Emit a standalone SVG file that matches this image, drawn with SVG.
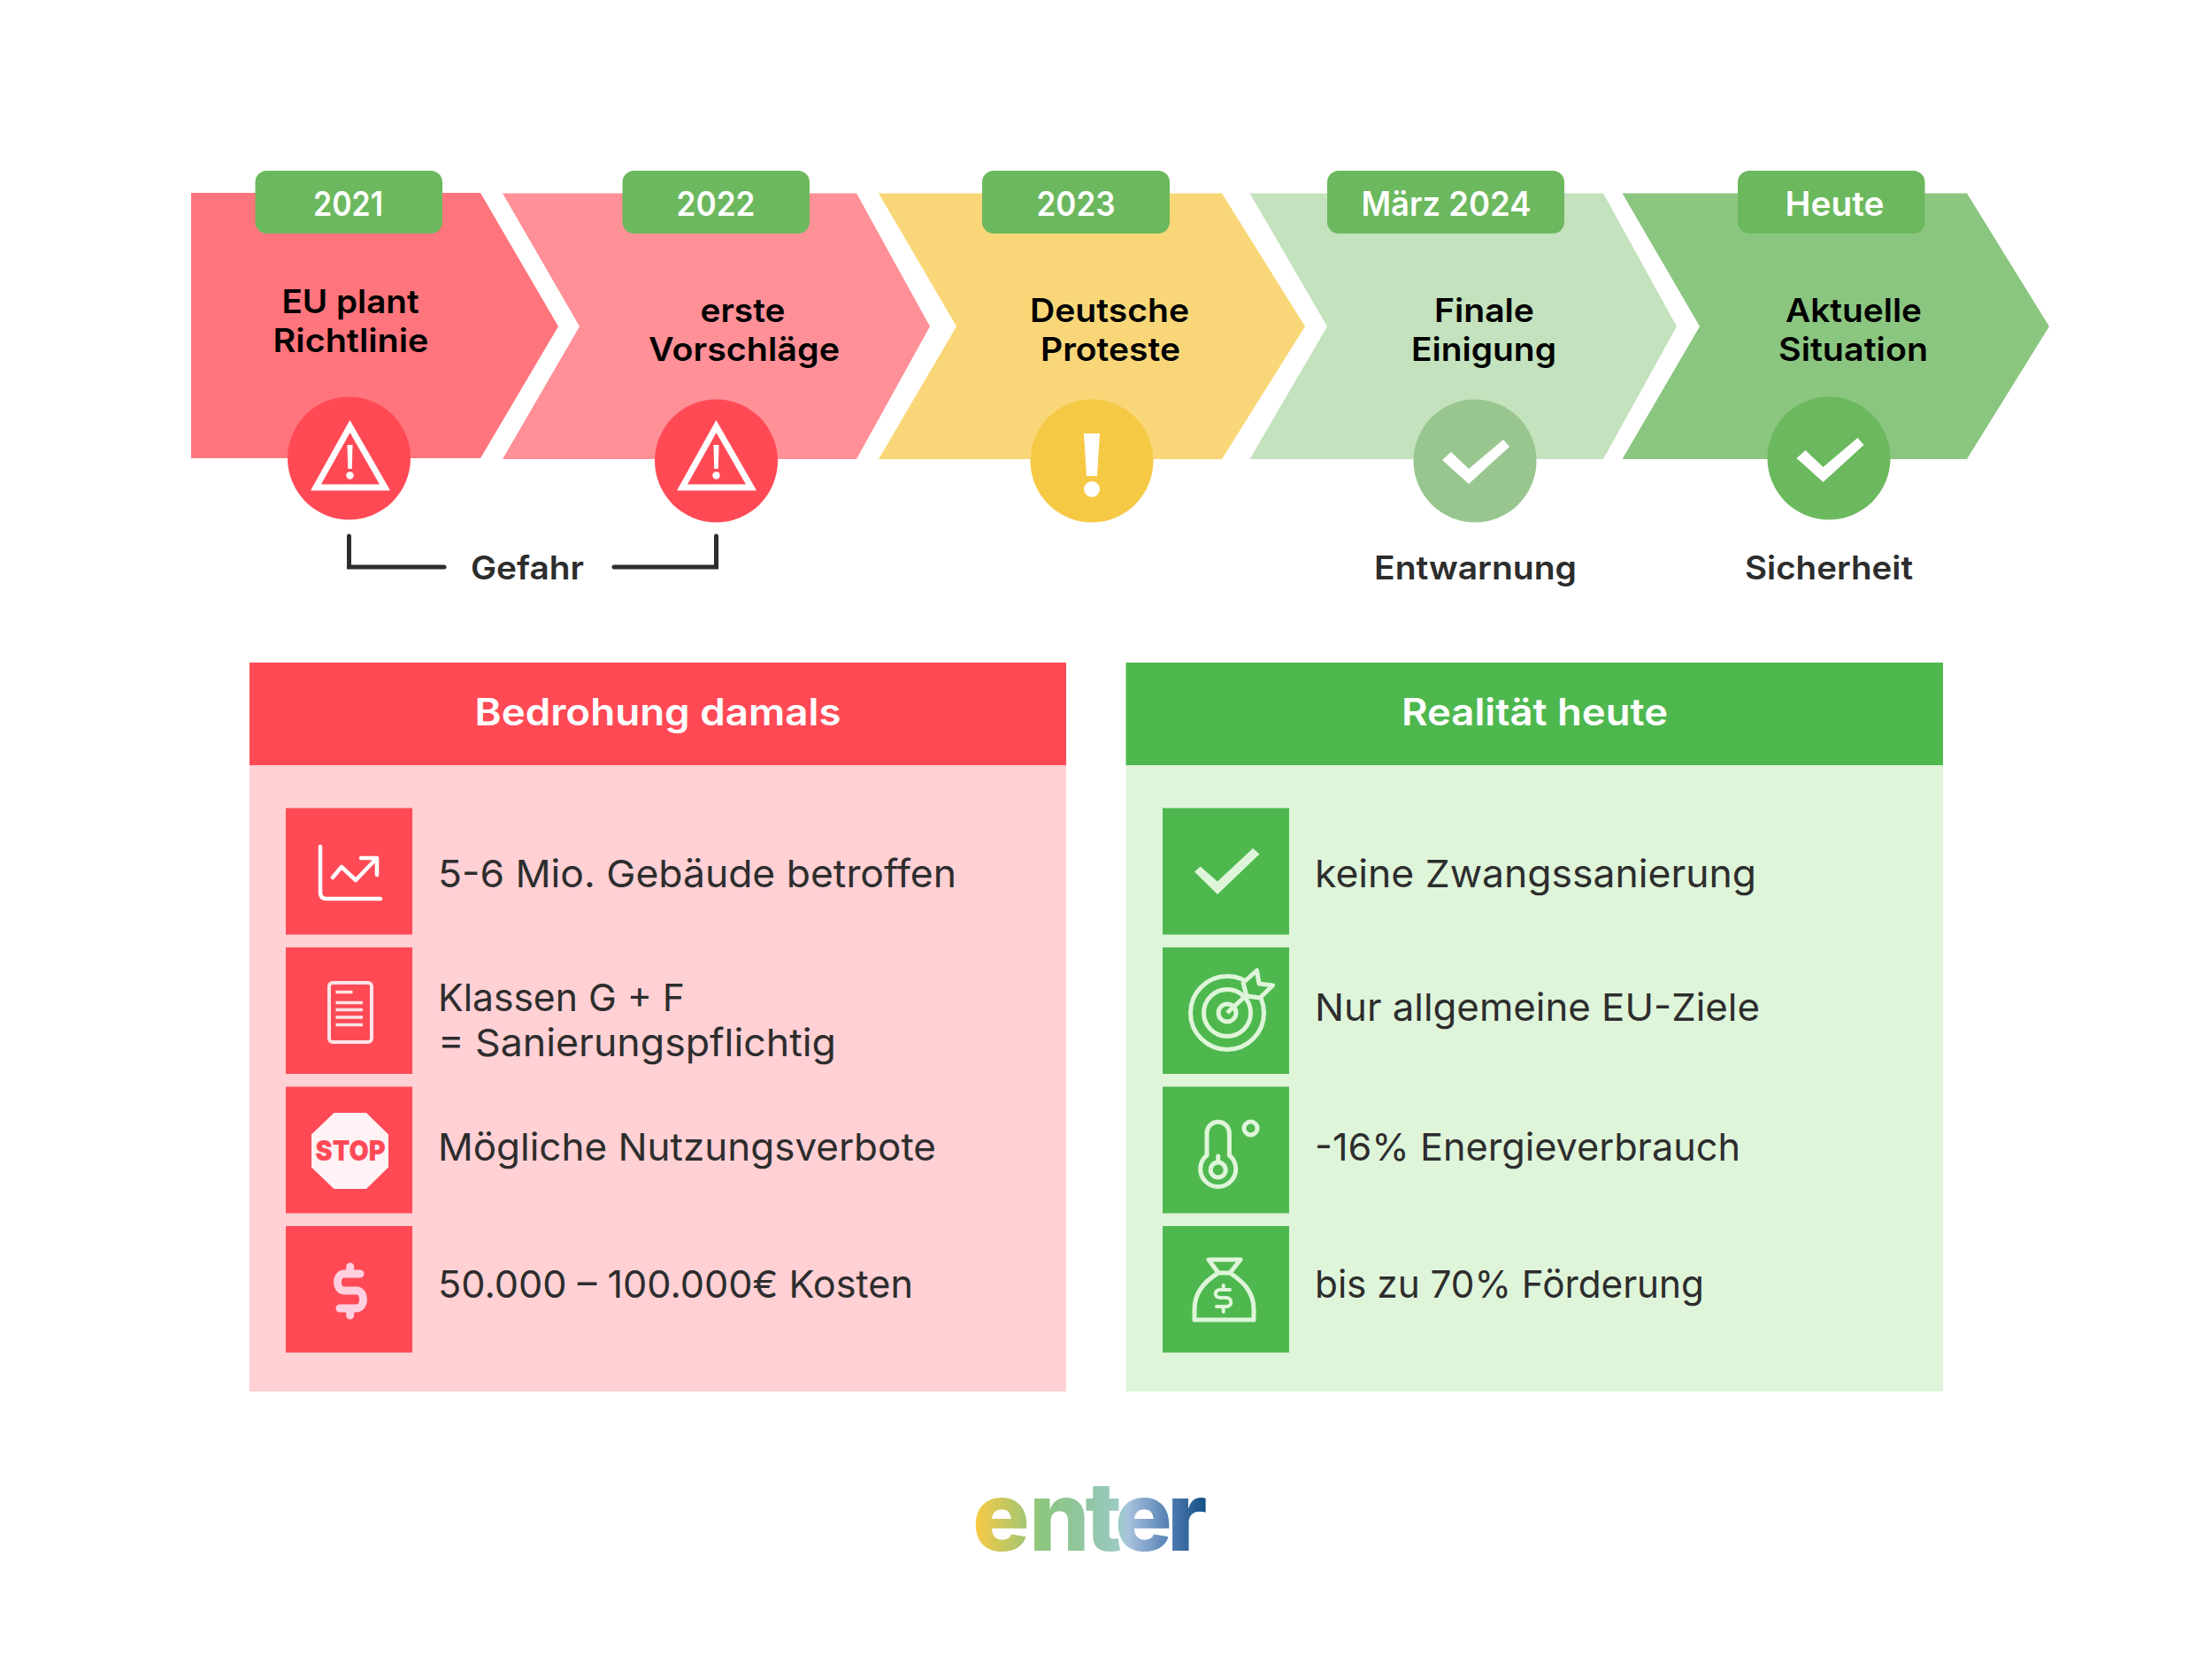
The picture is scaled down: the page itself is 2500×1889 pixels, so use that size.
<svg xmlns="http://www.w3.org/2000/svg" width="2500" height="1889" viewBox="0 0 2500 1889">
<defs>
<linearGradient id="logoGrad" gradientUnits="userSpaceOnUse" x1="1103" y1="0" x2="1363" y2="0">
<stop offset="0" stop-color="#f6c945"/><stop offset="0.28" stop-color="#8cc67e"/><stop offset="0.5" stop-color="#92c6a6"/><stop offset="0.62" stop-color="#9ccac4"/><stop offset="0.66" stop-color="#a8c2de"/><stop offset="0.86" stop-color="#4a78ae"/><stop offset="1" stop-color="#134f85"/>
</linearGradient>
</defs>
<style>
text{font-family:"Inter","Liberation Sans",sans-serif}
.badge{fill:#6cb85e}
.by{font-size:38px;font-weight:600;fill:#fff}
.lab{font-size:37px;font-weight:600;fill:#000}
.cap{font-size:37px;font-weight:600;fill:#2d2d2d}
.head{font-size:42px;font-weight:600;fill:#fff}
.item{font-size:43px;font-weight:400;fill:#2d2d2d}
.red{fill:#ff4a56}.grn{fill:#4eb84f}
.w{fill:none;stroke:#fff;stroke-linejoin:miter}
.ri{fill:none;stroke:#dff5da;stroke-width:5}
.li{fill:none;stroke:#fff;stroke-width:4.5;stroke-linecap:round;stroke-linejoin:round}
</style>
<rect width="2500" height="1889" fill="#fff"/>

<g id="step-2021">
<polygon points="216,218 543,218 631,369 543,518 216,518" fill="#ff757d"/>
<rect class="badge" x="288.500" y="193" width="211.500" height="71" rx="13"/>
<text class="by" x="354" y="243.500" textLength="79" lengthAdjust="spacingAndGlyphs">2021</text>
<text class="lab" x="318.500" y="353.500" textLength="155" lengthAdjust="spacingAndGlyphs">EU plant</text>
<text class="lab" x="308.500" y="398" textLength="176" lengthAdjust="spacingAndGlyphs">Richtlinie</text>
<circle class="red" cx="394.500" cy="518" r="69.500"/>
<polygon class="w" stroke-width="7" points="395.500,482 357,551 435,551"/>
<polygon points="392.500,503 398.500,503 397.800,530 393.200,530" fill="#fff"/><circle cx="395.500" cy="537.500" r="4.200" fill="#fff"/>
</g>
<g id="step-2022">
<polygon points="568,218.500 968,218.500 1051,369 968,519 568,519 655,369" fill="#ff9097"/>
<rect class="badge" x="703.500" y="193" width="211.500" height="71" rx="13"/>
<text class="by" x="764.500" y="243.500" textLength="89" lengthAdjust="spacingAndGlyphs">2022</text>
<text class="lab" x="791.500" y="363.500" textLength="96" lengthAdjust="spacingAndGlyphs">erste</text>
<text class="lab" x="733" y="408" textLength="216" lengthAdjust="spacingAndGlyphs">Vorschläge</text>
<circle class="red" cx="809.500" cy="521" r="69.500"/>
<polygon class="w" stroke-width="7" points="809.500,482 771,551 849,551"/>
<polygon points="806.500,503 812.500,503 811.800,530 807.200,530" fill="#fff"/><circle cx="809.500" cy="537.500" r="4.200" fill="#fff"/>
</g>
<g id="step-2023">
<polygon points="993,218.500 1381,218.500 1475,369 1381,519 993,519 1081,369" fill="#f9d778"/>
<rect class="badge" x="1110" y="193" width="212" height="71" rx="13"/>
<text class="by" x="1171.500" y="243.500" textLength="89" lengthAdjust="spacingAndGlyphs">2023</text>
<text class="lab" x="1164" y="363.500" textLength="180" lengthAdjust="spacingAndGlyphs">Deutsche</text>
<text class="lab" x="1176" y="408" textLength="158" lengthAdjust="spacingAndGlyphs">Proteste</text>
<circle cx="1234" cy="521" r="69.500" fill="#f6c945"/>
<polygon points="1225,490 1243,490 1240,538 1228,538" fill="#fff"/><circle cx="1234" cy="553" r="9" fill="#fff"/>
</g>
<g id="step-2024">
<polygon points="1412.500,218.500 1812,218.500 1895,369 1812,519 1412.500,519 1500,369" fill="#c3e2bd"/>
<rect class="badge" x="1500" y="193" width="268" height="71" rx="13"/>
<text class="by" x="1538.500" y="243.500" textLength="192" lengthAdjust="spacingAndGlyphs">März 2024</text>
<text class="lab" x="1621" y="363.500" textLength="113" lengthAdjust="spacingAndGlyphs">Finale</text>
<text class="lab" x="1595" y="408" textLength="164" lengthAdjust="spacingAndGlyphs">Einigung</text>
<circle cx="1667" cy="521" r="69.500" fill="#99c68f"/>
<polygon points="1630,520 1640,511 1660,530 1699,497 1706,505 1660,547" fill="#fff"/>
<text class="cap" x="1553" y="654.500" textLength="229" lengthAdjust="spacingAndGlyphs">Entwarnung</text>
</g>
<g id="step-heute">
<polygon points="1833.500,218.500 2223,218.500 2316,369 2223,519 1833.500,519 1921,369" fill="#8bc680"/>
<rect class="badge" x="1964" y="193" width="211.500" height="71" rx="13"/>
<text class="by" x="2017.500" y="243.500" textLength="112" lengthAdjust="spacingAndGlyphs">Heute</text>
<text class="lab" x="2018" y="363.500" textLength="154" lengthAdjust="spacingAndGlyphs">Aktuelle</text>
<text class="lab" x="2010" y="408" textLength="169" lengthAdjust="spacingAndGlyphs">Situation</text>
<circle cx="2067" cy="518" r="69.500" fill="#6cb85e"/>
<polygon points="2030.500,518 2040.500,509 2060.500,528 2099.500,495 2106.500,503 2060.500,545" fill="#fff"/>
<text class="cap" x="1972" y="654.500" textLength="190" lengthAdjust="spacingAndGlyphs">Sicherheit</text>
</g>

<g id="connectors" fill="none" stroke="#2d2d2d" stroke-width="5" stroke-linecap="round">
<path d="M394.500,606 V641 H502"/>
<path d="M694,641 H809.500 V606"/>
</g>
<g id="gefahr"><text class="cap" x="532" y="654.500" textLength="128" lengthAdjust="spacingAndGlyphs">Gefahr</text></g>

<g id="panel-damals">
<rect x="282" y="749" width="923" height="824" fill="#ffd0d4"/>
<rect class="red" x="282" y="749" width="923" height="116"/>
<text class="head" x="536.500" y="820" textLength="414" lengthAdjust="spacingAndGlyphs">Bedrohung damals</text>
<g id="item-gebaeude">
<rect class="red" x="323" y="913.500" width="143" height="143"/>
<path class="li" d="M362,957 V1009 Q362,1016 369,1016 H430"/>
<path class="li" d="M376,992 L386,980 L402,995 L425,971 M408,970 H426 V989"/>
<text class="item" x="495" y="1003" textLength="586" lengthAdjust="spacingAndGlyphs">5-6 Mio. Gebäude betroffen</text>
</g>
<g id="item-klassen">
<rect class="red" x="323" y="1071" width="143" height="143"/>
<rect x="372" y="1111" width="48" height="67" rx="4" fill="none" stroke="#ffe3e6" stroke-width="4"/>
<path d="M379.500,1121.500 H398.500 M379.500,1133.500 H410 M379.500,1141.500 H410 M379.500,1150 H410 M379.500,1158.500 H410" stroke="#ffe3e6" stroke-width="3.500" fill="none"/>
<text class="item" x="495" y="1142.500" textLength="279" lengthAdjust="spacingAndGlyphs">Klassen G + F</text>
<text class="item" x="495" y="1194" textLength="450" lengthAdjust="spacingAndGlyphs">= Sanierungspflichtig</text>
</g>
<g id="item-stop">
<rect class="red" x="323" y="1228.500" width="143" height="143"/>
<polygon points="377.500,1258 414,1258 439,1282.500 439,1319.500 414,1344 377.500,1344 352,1319.500 352,1282.500" fill="#fff3f6"/>
<text x="356.500" y="1312" font-size="32" font-weight="900" fill="#ff4a56" textLength="79" lengthAdjust="spacingAndGlyphs">STOP</text>
<text class="item" x="495" y="1312" textLength="563" lengthAdjust="spacingAndGlyphs">Mögliche Nutzungsverbote</text>
</g>
<g id="item-kosten">
<rect class="red" x="323" y="1386" width="143" height="143"/>
<path d="M407,1440 H389 C379,1440 379,1459 389,1459 H403 C413,1459 413,1479 403,1479 H384 M395.700,1432 V1440 M395.700,1479 V1487" fill="none" stroke="#ffcfe0" stroke-width="9" stroke-linecap="round"/>
<text class="item" x="495" y="1466.500" textLength="537" lengthAdjust="spacingAndGlyphs">50.000 – 100.000€ Kosten</text>
</g>
</g>

<g id="panel-heute">
<rect x="1272.500" y="749" width="923.500" height="824" fill="#dff5da"/>
<rect class="grn" x="1272.500" y="749" width="923.500" height="116"/>
<text class="head" x="1584" y="820" textLength="301" lengthAdjust="spacingAndGlyphs">Realität heute</text>
<g id="item-zwang">
<rect class="grn" x="1314" y="913.500" width="143" height="143"/>
<polygon points="1350,985.500 1376,1011 1423.500,965.500 1416,959 1376,996.500 1356.500,979.500" fill="#dff5da"/>
<text class="item" x="1486" y="1003" textLength="499" lengthAdjust="spacingAndGlyphs">keine Zwangssanierung</text>
</g>
<g id="item-ziele">
<rect class="grn" x="1314" y="1071" width="143" height="143"/>
<circle class="ri" cx="1387" cy="1145" r="41.500"/>
<circle class="ri" cx="1387" cy="1145" r="26.500"/>
<circle class="ri" cx="1387" cy="1145" r="10"/>
<path class="ri" d="M1387,1145 L1413,1121"/>
<path d="M1405,1111 L1420.500,1097 L1423,1112 L1438.500,1114 L1424,1128 L1409,1126 Z" fill="#4eb84f" stroke="#dff5da" stroke-width="5" stroke-linejoin="round"/>
<text class="item" x="1486" y="1154" textLength="503" lengthAdjust="spacingAndGlyphs">Nur allgemeine EU-Ziele</text>
</g>
<g id="item-energie">
<rect class="grn" x="1314" y="1228.500" width="143" height="143"/>
<path class="ri" d="M1364,1306 V1281 A12.700,12.700 0 0 1 1389.400,1281 V1306 A20,20 0 1 1 1364,1306 Z"/>
<circle class="ri" cx="1376.700" cy="1322.500" r="8.500"/>
<path class="ri" stroke-linecap="round" d="M1376.700,1307 V1313"/>
<circle class="ri" cx="1413.500" cy="1275.500" r="7.500"/>
<text class="item" x="1486" y="1312" textLength="481" lengthAdjust="spacingAndGlyphs">-16% Energieverbrauch</text>
</g>
<g id="item-foerderung">
<rect class="grn" x="1314" y="1386" width="143" height="143"/>
<path class="ri" stroke-linejoin="round" d="M1366,1424 H1402 L1390,1439 H1377 Z M1377,1439 C1362,1448 1350,1460 1350,1480 V1492 H1417 V1480 C1417,1460 1404,1448 1390,1439"/>
<path d="M1390,1458 H1379 C1372,1458 1372,1467 1379,1467 H1386 C1393,1467 1393,1477 1386,1477 H1375 M1382.700,1453 V1458 M1382.700,1477 V1483" fill="none" stroke="#dff5da" stroke-width="4" stroke-linecap="round"/>
<text class="item" x="1486" y="1466.500" textLength="440" lengthAdjust="spacingAndGlyphs">bis zu 70% Förderung</text>
</g>
</g>

<g id="logo">
<text x="1099 1163 1226.500 1260 1319" y="1752.500" font-size="108" font-weight="800" fill="url(#logoGrad)">enter</text>
</g>
</svg>
